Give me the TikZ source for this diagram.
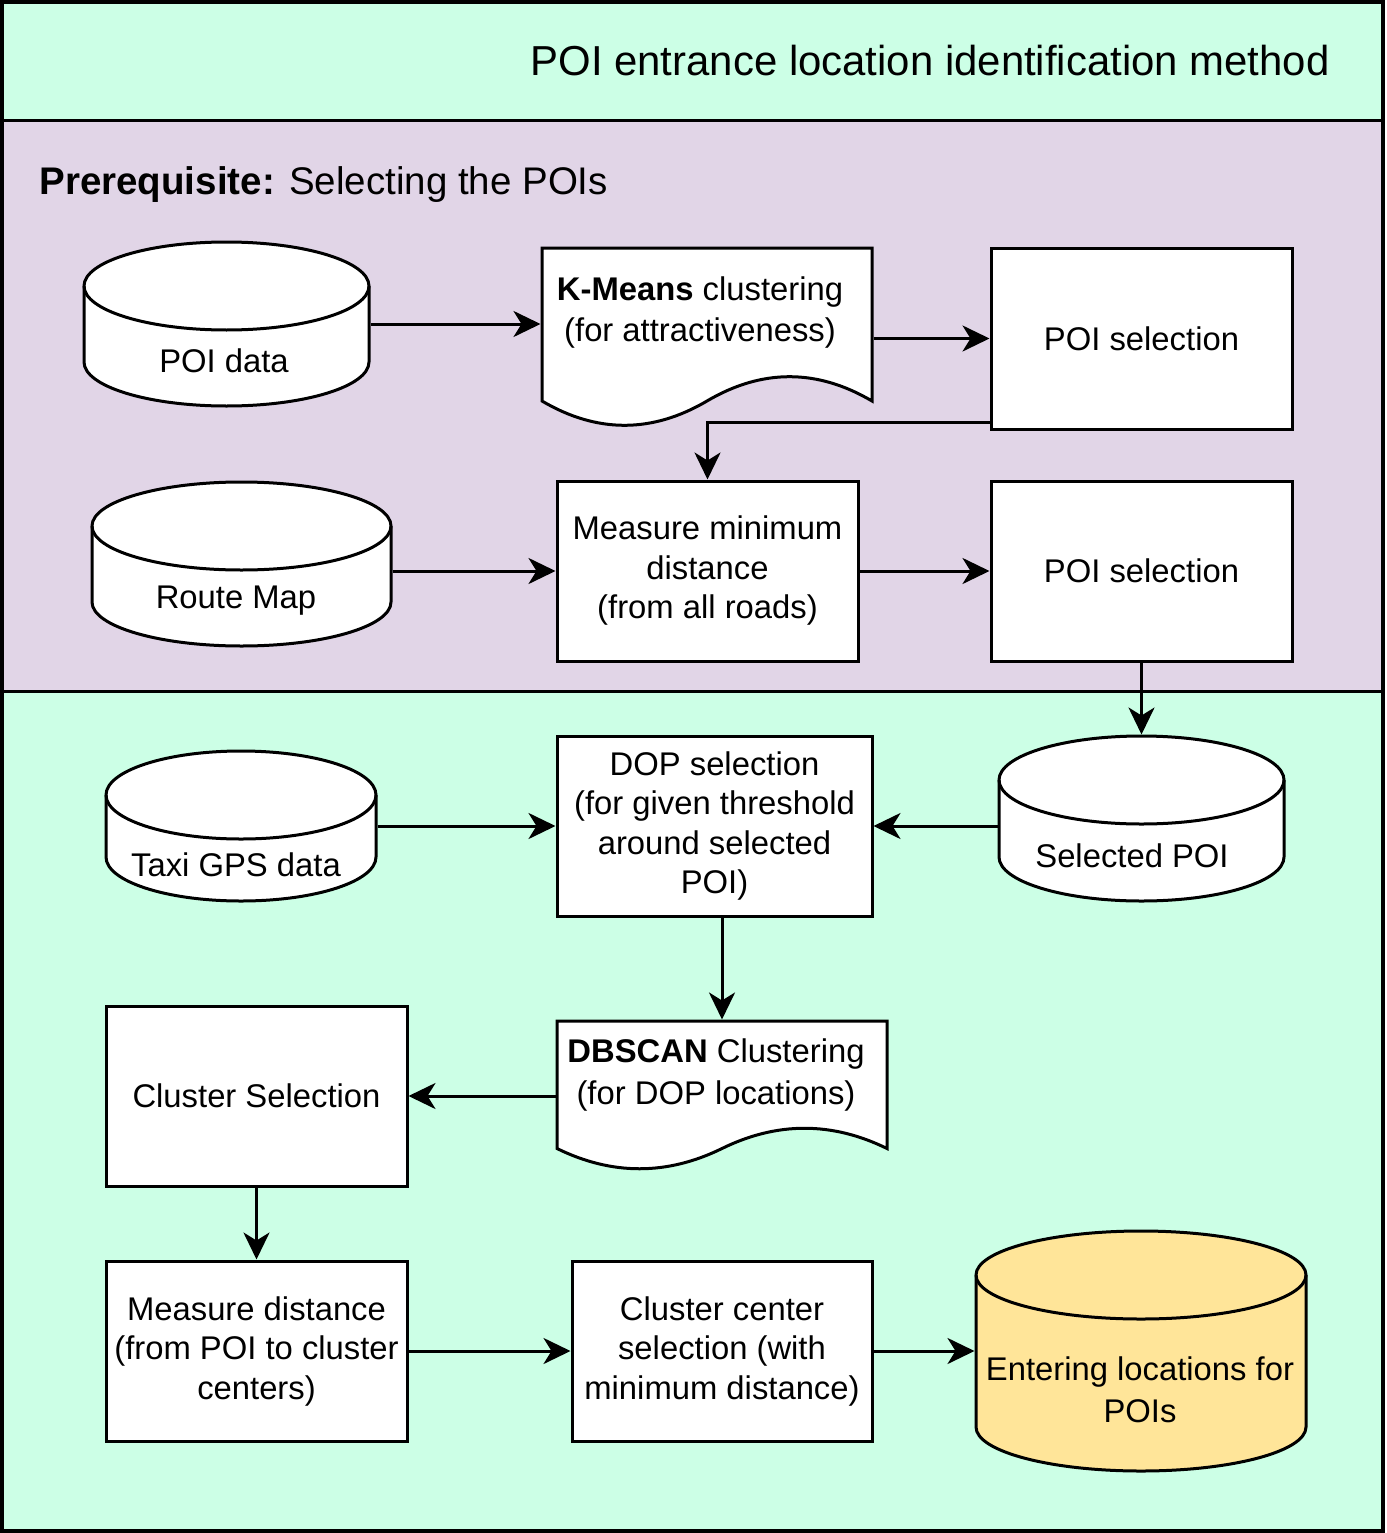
\documentclass[tikz,border=0pt]{standalone}
\usepackage{fontspec}
\setmainfont{Liberation Sans}
\usetikzlibrary{arrows.meta}
\definecolor{mint}{HTML}{CCFFE6}
\definecolor{lav}{HTML}{E1D5E7}
\definecolor{ylw}{HTML}{FFE599}
\newcommand{\diagbody}{\fontsize{32.8pt}{39.5pt}\selectfont}
\newcommand{\dbcyl}[6]{%
  \pgfmathsetmacro{\dbcx}{(#2+#4)/2}%
  \pgfmathsetmacro{\dbcy}{(#3+#5)/2}%
  \pgfmathsetmacro{\dbrx}{(#4-#2)/2}%
  \pgfmathsetmacro{\dbw}{#4-#2}%
  \pgfmathsetmacro{\dbh}{#5-#3}%
  \pgfmathsetmacro{\dbyt}{#3+44}%
  \pgfmathsetmacro{\dbyb}{#5-44}%
  \draw[fill=#6] (#2,\dbyt) -- (#2,\dbyb) arc[start angle=180,end angle=360,x radius=\dbrx pt,y radius=44pt] -- (#4,\dbyt) arc[start angle=0,end angle=180,x radius=\dbrx pt,y radius=44pt] -- cycle;
  \draw (#2,\dbyt) arc[start angle=180,end angle=360,x radius=\dbrx pt,y radius=44pt];
  \node[anchorbox, minimum width=\dbw pt, minimum height=\dbh pt] (#1) at (\dbcx,\dbcy) {};%
}
\begin{document}
\begin{tikzpicture}[x=1pt,y=-1pt,
  line width=3pt,
  boxstyle/.style={draw, fill=white, rectangle, inner sep=0pt, align=center, font=\diagbody},
  anchorbox/.style={rectangle, inner sep=0pt, draw=none},
  lbl/.style={inner sep=0pt, align=center, font=\diagbody},
  arr/.style={-{Stealth[length=27pt,width=26pt,inset=8pt]}, line width=3pt},
]
\useasboundingbox (0,0) rectangle (1386,1533);
% backgrounds
\fill[mint] (2,2) rectangle (1383,1531);
\fill[lav] (2,121) rectangle (1383,691);
\draw (2,121) -- (1383,121);
\draw (2,691) -- (1383,691);
\draw[line width=4pt] (2,2) rectangle (1383,1531);

% titles
\node[anchor=east, inner sep=0pt, font=\fontsize{41.9pt}{48pt}\selectfont] (title) at (1331,61) {POI entrance location identification method};
\node[anchor=base west, inner sep=0pt, font=\fontsize{38.5pt}{46pt}\selectfont] (prereq) at (38,195) {\textbf{Prerequisite:} Selecting the POIs};

% cylinders
\dbcyl{poidata}{84}{242}{369}{406}{white}
\node[lbl] (poidata-t) at (224,361) {POI data};
\dbcyl{route}{92}{482}{391}{646}{white}
\node[lbl] (route-t) at (236,601) {Route Map};
\dbcyl{selpoi}{999}{736}{1284}{901}{white}
\node[lbl] (selpoi-t) at (1132,856) {Selected POI};
\dbcyl{taxi}{106}{751}{376}{901}{white}
\node[lbl] (taxi-t) at (236,865) {Taxi GPS data};
\dbcyl{enter}{976}{1231}{1306}{1471}{ylw}
\node[lbl, font=\fontsize{32.8pt}{42pt}\selectfont] (enter-t) at (1140,1390) {Entering locations for\\POIs};

% documents
\draw[fill=white] (542,248) -- (872,248) -- (872,401) .. controls (817,368.6) and (762,368.6) .. (707,401) .. controls (652,433.4) and (597,433.4) .. (542,401) -- cycle;
\node[anchorbox, minimum width=330pt, minimum height=180pt] (kmeans) at (707,338) {};
\node[lbl, font=\fontsize{32.8pt}{41pt}\selectfont] (kmeans-t) at (700,313) {\textbf{K-Means} clustering\\(for attractiveness)};

\draw[fill=white] (557,1021) -- (887,1021) -- (887,1148.5) .. controls (832,1121.5) and (777,1121.5) .. (722,1148.5) .. controls (667,1175.5) and (612,1175.5) .. (557,1148.5) -- cycle;
\node[anchorbox, minimum width=330pt, minimum height=150pt] (dbscan) at (722,1096) {};
\node[lbl, font=\fontsize{32.8pt}{42pt}\selectfont] (dbscan-t) at (716,1075) {\textbf{DBSCAN} Clustering\\(for DOP locations)};

% boxes
\node[boxstyle, minimum width=301pt, minimum height=181pt] (psel1) at (1141.5,338.5) {POI selection};
\node[boxstyle, minimum width=301pt, minimum height=180pt] (measure) at (707.5,571) {Measure minimum\\distance\\(from all roads)};
\node[boxstyle, minimum width=301pt, minimum height=180pt] (psel2) at (1141.5,571) {POI selection};
\node[boxstyle, minimum width=315pt, minimum height=180pt] (dop) at (714.5,826) {DOP selection\\(for given threshold\\around selected\\POI)};
\node[boxstyle, minimum width=301pt, minimum height=180pt] (clsel) at (256.5,1096) {Cluster Selection};
\node[boxstyle, minimum width=301pt, minimum height=180pt] (mdist) at (256.5,1351) {Measure distance\\(from POI to cluster\\centers)};
\node[boxstyle, minimum width=300pt, minimum height=180pt] (ccent) at (722,1351) {Cluster center\\selection (with\\minimum distance)};

% connectors
\draw[arr] (poidata.east) -- (poidata.east -| kmeans.west);
\draw[arr] (kmeans.east |- psel1.west) -- (psel1.west);
\draw[arr] ([yshift=8pt]psel1.south west) -| (measure.north);
\draw[arr] (measure.west -| route.east) -- (measure.west);
\draw[arr] (measure.east) -- (psel2.west);
\draw[arr] (psel2.south) -- (selpoi.north -| psel2.south);
\draw[arr] (dop.east -| selpoi.west) -- (dop.east);
\draw[arr] (taxi.east) -- (taxi.east -| dop.west);
\draw[arr] (dop.south -| dbscan.north) -- (dbscan.north);
\draw[arr] (dbscan.west) -- (clsel.east);
\draw[arr] (clsel.south) -- (mdist.north);
\draw[arr] (mdist.east) -- (ccent.west);
\draw[arr] (ccent.east) -- (enter.west);
\end{tikzpicture}
\end{document}
